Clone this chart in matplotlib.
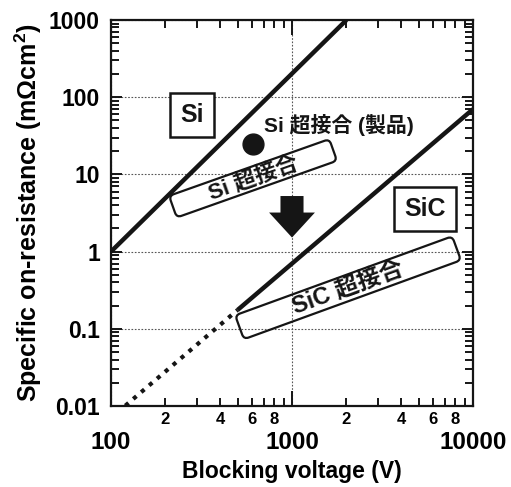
import matplotlib
matplotlib.use("Agg")
import matplotlib.pyplot as plt
import matplotlib.transforms as mtransforms
from matplotlib.patches import FancyBboxPatch
from matplotlib.ticker import LogLocator, FuncFormatter, NullFormatter

plt.rcParams["font.family"] = ["Liberation Sans", "Noto Sans CJK JP"]
plt.rcParams["font.weight"] = "bold"
plt.rcParams["axes.labelweight"] = "bold"
plt.rcParams["mathtext.fontset"] = "custom"
plt.rcParams["mathtext.rm"] = "Liberation Sans:bold"
plt.rcParams["mathtext.bf"] = "Liberation Sans:bold"

INK = "#151515"

# Si unipolar limit
si_v = [100, 2000]
si_r = [1, 1000]
# SiC unipolar limit (solid part) and its extension (dotted)
sic_v = [500, 10000]
sic_r = [0.175, 70]
sic_ext_v = [120, 500]
sic_ext_r = [0.0101, 0.175]
# Si super-junction product
product_v = [610]
product_r = [24.5]

x_major_labels = ["100", "1000", "10000"]
y_major_labels = ["0.01", "0.1", "1", "10", "100", "1000"]


def tilted_box(ax, x, y, w, h, angle, text, size):
    tr = (mtransforms.Affine2D().rotate_deg(angle) + ax.figure.dpi_scale_trans
          + mtransforms.ScaledTranslation(x, y, ax.transData))
    box = FancyBboxPatch((-w / 2, -h / 2), w, h,
                         boxstyle="round,pad=0,rounding_size=0.05",
                         fc="none", ec=INK, lw=1.6, transform=tr, zorder=4)
    ax.add_patch(box)
    ax.text(x, y, text, rotation=angle, rotation_mode="anchor",
            ha="center", va="center", fontsize=size, color=INK, zorder=5)


fig = plt.figure(figsize=(5.11, 4.87), dpi=100)
ax = fig.add_axes([111 / 511, 1 - 406 / 487, 362 / 511, 386 / 487])
ax.set_xscale("log")
ax.set_yscale("log")

ax.plot(si_v, si_r, color=INK, lw=3.2, solid_capstyle="butt", zorder=3)
ax.plot(sic_v, sic_r, color=INK, lw=3.2, solid_capstyle="butt", zorder=3)
ax.plot(sic_ext_v, sic_ext_r, color=INK, lw=3.0, ls=(0, (1.0, 1.5)), zorder=3)
ax.plot(product_v, product_r, "o", color=INK, ms=15, zorder=3)

ax.set_xlim(100, 10000)
ax.set_ylim(0.01, 1000)

ax.text(280, 58, "Si", fontsize=18, ha="center", va="center", color=INK,
        bbox=dict(boxstyle="square,pad=0.4", fc="white", ec=INK, lw=1.8))
ax.text(5430, 3.6, "SiC", fontsize=18, ha="center", va="center", color=INK,
        bbox=dict(boxstyle="square,pad=0.4", fc="white", ec=INK, lw=1.8))
ax.text(700, 43, "Si 超接合 (製品)", fontsize=15, ha="left", va="center", color=INK)

tilted_box(ax, 609, 8.9, 1.70, 0.23, 19.5, "Si 超接合", 16)
tilted_box(ax, 2040, 0.34, 2.31, 0.255, 20, "SiC 超接合", 17)

ax.annotate("", xy=(1000, 1.4), xytext=(1000, 5.7),
            arrowprops=dict(arrowstyle="simple,head_length=0.9,head_width=1.65,tail_width=0.83",
                            mutation_scale=20, color=INK, lw=0), zorder=4)

# ticks
ax.xaxis.set_minor_locator(LogLocator(base=10, subs=range(2, 10), numticks=20))
ax.yaxis.set_minor_locator(LogLocator(base=10, subs=range(2, 10), numticks=20))
ax.set_xticks([100, 1000, 10000], labels=x_major_labels)
ax.set_yticks([0.01, 0.1, 1, 10, 100, 1000], labels=y_major_labels)


def minor_fmt(v, pos):
    m = round(v / 10 ** int(f"{v:e}".split("e")[1]))
    return str(m) if m in (2, 4, 6, 8) else ""


ax.xaxis.set_minor_formatter(FuncFormatter(minor_fmt))
ax.yaxis.set_minor_formatter(NullFormatter())

ax.tick_params(which="both", direction="in", top=True, right=True, color=INK, width=1.4)
ax.tick_params(axis="x", which="major", length=11, pad=18, labelsize=17.5)
ax.tick_params(axis="x", which="minor", length=6, pad=4, labelsize=12)
ax.tick_params(axis="y", which="major", length=8, pad=8, labelsize=16.5)
ax.tick_params(axis="y", which="minor", length=6)

ax.grid(True, which="major", ls=(0, (1.5, 1.5)), color="#555", lw=0.8)
for s in ax.spines.values():
    s.set_linewidth(1.6)
    s.set_color(INK)

ax.set_xlabel("Blocking voltage (V)", fontsize=16.5)
ax.set_ylabel("Specific on-resistance (mΩcm$^{2}$)", fontsize=18)
ax.xaxis.set_label_coords(0.5, -0.14)
ax.xaxis.label.set_va("top")
ax.yaxis.set_label_coords(-0.185, 0.5)

fig.savefig("out.png", dpi=100)
